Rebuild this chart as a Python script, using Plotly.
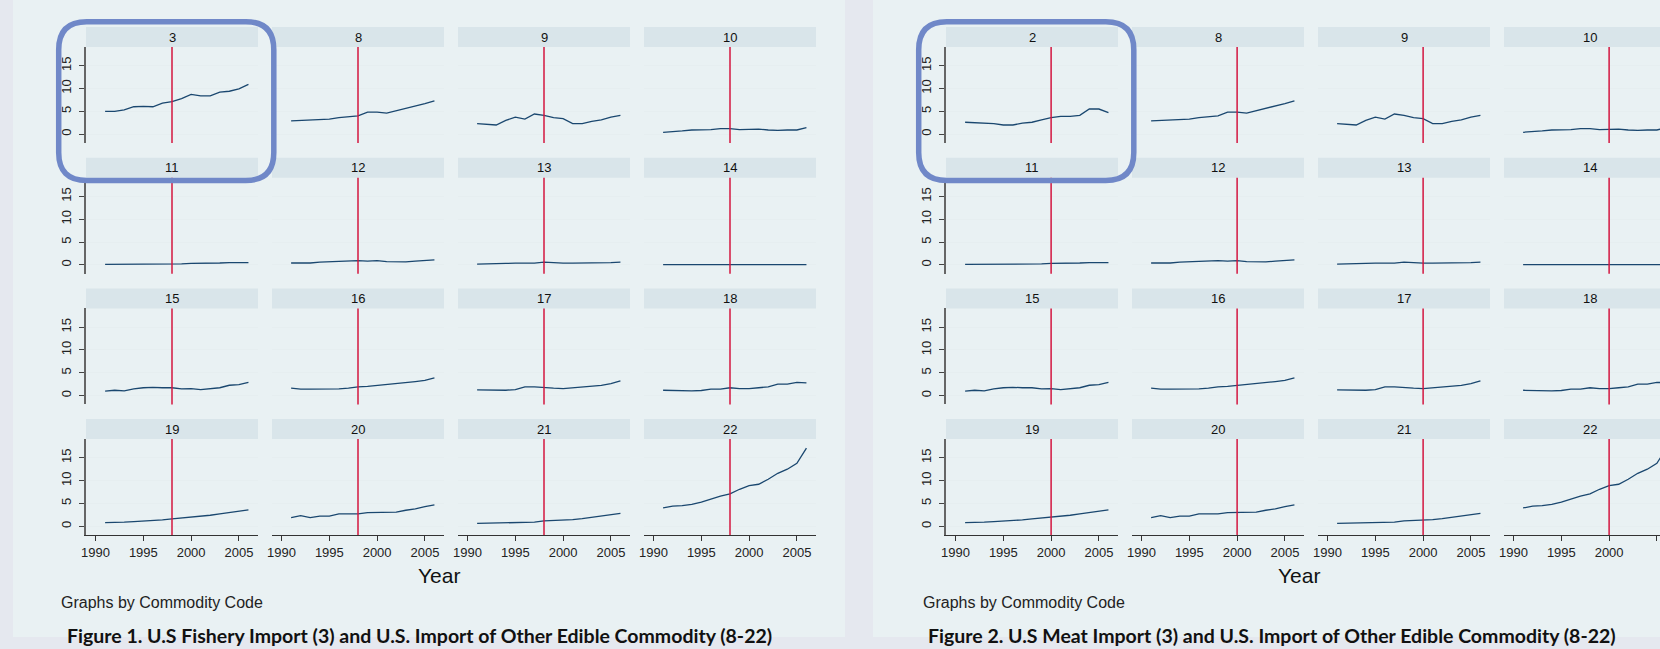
import plotly.graph_objects as go

# ---------------- data ----------------
years = [1991, 1992, 1993, 1994, 1995, 1996, 1997, 1998,
         1999, 2000, 2001, 2002, 2003, 2004, 2005, 2006]
x_tick_vals = [1990, 1995, 2000, 2005]
y_tick_vals = [0, 5, 10, 15]
y_tick_text = ["0", "5", "10", "15"]

codes_fig1 = ["3", "8", "9", "10", "11", "12", "13", "14",
              "15", "16", "17", "18", "19", "20", "21", "22"]
codes_fig2 = ["2", "8", "9", "10", "11", "12", "13", "14",
              "15", "16", "17", "18", "19", "20", "21", "22"]
event_year_fig1 = 1998
event_year_fig2 = 2000

s2 = [2.6, 2.5, 2.5, 2.3, 2.0, 2.0, 2.4, 2.6, 3.1, 3.6, 3.9, 3.9, 4.1, 5.5, 5.5, 4.7]
s3 = [5.0, 5.0, 5.3, 6.0, 6.1, 6.0, 6.8, 7.1, 7.8, 8.7, 8.4, 8.4, 9.2, 9.4, 9.9, 10.9]
s8 = [2.9, 3.0, 3.0, 3.1, 3.3, 3.6, 3.8, 4.0, 4.8, 4.8, 4.6, 5.1, 5.6, 6.1, 6.7, 7.3]
s9 = [2.3, 2.2, 2.0, 3.0, 3.7, 3.3, 4.4, 4.1, 3.6, 3.4, 2.3, 2.3, 2.8, 3.1, 3.7, 4.1]
s10 = [0.4, 0.5, 0.7, 0.9, 0.9, 1.0, 1.2, 1.2, 1.0, 1.0, 1.1, 0.9, 0.8, 0.9, 0.9, 1.4]
s11 = [0.1, 0.1, 0.1, 0.2, 0.2, 0.2, 0.2, 0.2, 0.2, 0.3, 0.3, 0.3, 0.4, 0.5, 0.5, 0.5]
s12 = [0.4, 0.4, 0.4, 0.6, 0.65, 0.7, 0.9, 0.9, 0.8, 0.9, 0.7, 0.6, 0.65, 0.8, 0.95, 1.1]
s13 = [0.15, 0.15, 0.15, 0.3, 0.35, 0.35, 0.35, 0.6, 0.45, 0.35, 0.35, 0.35, 0.5, 0.5, 0.5, 0.6]
s14 = [0.03, 0.03, 0.03, 0.03, 0.03, 0.03, 0.03, 0.03, 0.03, 0.03, 0.03, 0.03, 0.03, 0.03, 0.03, 0.03]
s15 = [0.95, 1.15, 1.0, 1.45, 1.7, 1.8, 1.7, 1.7, 1.45, 1.5, 1.3, 1.45, 1.7, 2.25, 2.4, 2.9]
s16 = [1.6, 1.4, 1.4, 1.4, 1.4, 1.45, 1.6, 1.9, 2.0, 2.2, 2.3, 2.55, 2.75, 3.05, 3.3, 3.85]
s17 = [1.25, 1.25, 1.1, 1.15, 1.3, 1.9, 1.9, 1.7, 1.6, 1.5, 1.7, 1.9, 2.05, 2.2, 2.6, 3.2]
s18 = [1.15, 1.1, 1.0, 1.0, 1.1, 1.4, 1.4, 1.7, 1.5, 1.5, 1.7, 1.9, 2.5, 2.5, 2.9, 2.75]
s19 = [0.8, 0.8, 0.9, 1.0, 1.1, 1.2, 1.4, 1.6, 1.8, 1.9, 2.1, 2.4, 2.7, 3.0, 3.3, 3.6]
s20 = [1.9, 2.3, 1.9, 2.2, 2.2, 2.7, 2.7, 2.7, 3.0, 3.0, 3.0, 3.1, 3.5, 3.8, 4.3, 4.7]
s21 = [0.6, 0.65, 0.7, 0.8, 0.8, 0.85, 0.9, 1.15, 1.2, 1.35, 1.45, 1.65, 1.9, 2.2, 2.45, 2.8]
s22 = [4.0, 4.4, 4.5, 4.8, 5.3, 6.0, 6.6, 7.1, 8.1, 8.9, 9.2, 10.3, 11.6, 12.5, 13.8, 17.1]

series_fig1 = [s3, s8, s9, s10, s11, s12, s13, s14, s15, s16, s17, s18, s19, s20, s21, s22]
series_fig2 = [s2, s8, s9, s10, s11, s12, s13, s14, s15, s16, s17, s18, s19, s20, s21, s22]

caption_fig1 = "Figure 1. U.S Fishery Import (3) and U.S. Import of Other Edible Commodity (8-22)"
caption_fig2 = "Figure 2. U.S Meat Import (3) and U.S. Import of Other Edible Commodity (8-22)"
note_text = "Graphs by Commodity Code"
x_title = "Year"

# ---------------- layout helpers ----------------
W, H = 1660, 649
FONT = "Arial, 'Liberation Sans', sans-serif"
PAGE_BG = "#e5e8ef"
PANEL_BG = "#e9f1f3"
STRIP_BG = "#d9e5ea"
LINE_COL = "#1a476f"
VLINE_COL = "#d3163f"
GRID_COL = "#e6eef0"
HILITE = "#7088c8"

X_MIN, X_MAX = 1989.0, 2007.0
Y_MIN, Y_MAX = -1.95, 19.1
COL_X0 = 86
COL_W = 172
COL_PITCH = 186
ROW_PITCH = 130.7
STRIP_TOP = 27
STRIP_H = 20
PLOT_H = 96
PANEL_OFF = 860


def fx(px):
    return px / W


def fy(py):
    return 1 - py / H


fig = go.Figure()
shapes = []
annotations = []
layout_axes = {}

panels = [
    (0, codes_fig1, series_fig1, event_year_fig1, caption_fig1, 420),
    (PANEL_OFF, codes_fig2, series_fig2, event_year_fig2, caption_fig2, 1272),
]

for off, codes, series, vyear, caption, capc in panels:
    shapes.append(dict(type="rect", xref="paper", yref="paper",
                       x0=fx(13 + off), x1=fx(845 + off), y0=fy(637), y1=fy(0),
                       fillcolor=PANEL_BG, line=dict(width=0), layer="below"))

k = 0
for off, codes, series, vyear, caption, capc in panels:
    for i, (code, vals) in enumerate(zip(codes, series)):
        r, c = divmod(i, 4)
        k += 1
        px0 = COL_X0 + c * COL_PITCH + off
        px1 = px0 + COL_W
        vis_px1 = min(px1, W)
        top = STRIP_TOP + STRIP_H + r * ROW_PITCH
        bot = top + PLOT_H
        x_hi = X_MIN + (vis_px1 - px0) / COL_W * (X_MAX - X_MIN)

        xa = "x" if k == 1 else f"x{k}"
        ya = "y" if k == 1 else f"y{k}"
        xkey = "xaxis" if k == 1 else f"xaxis{k}"
        ykey = "yaxis" if k == 1 else f"yaxis{k}"

        bottom_row = (r == 3)
        left_col = (c == 0)

        layout_axes[xkey] = dict(
            domain=[fx(px0), fx(vis_px1)], range=[X_MIN, x_hi], anchor=ya,
            showgrid=False, zeroline=False, automargin=False,
            showline=bottom_row, linecolor="#333333", linewidth=1.3,
            ticks="outside" if bottom_row else "", ticklen=5, tickwidth=1.2,
            tickcolor="#333333", tickmode="array", tickvals=x_tick_vals,
            showticklabels=bottom_row,
            tickfont=dict(family=FONT, size=13, color="#222222"),
            fixedrange=True,
        )
        layout_axes[ykey] = dict(
            domain=[fy(bot), fy(top)], range=[Y_MIN, Y_MAX], anchor=xa,
            showgrid=True, gridcolor=GRID_COL, gridwidth=1.2,
            zeroline=False, automargin=False,
            showline=left_col, linecolor="#666666", linewidth=1.6,
            ticks="outside" if left_col else "", ticklen=5, tickwidth=1.2,
            tickcolor="#444444", tickmode="array", tickvals=y_tick_vals,
            ticktext=y_tick_text, tickangle=-90, ticklabelstandoff=3,
            showticklabels=left_col,
            tickfont=dict(family=FONT, size=13, color="#222222"),
            fixedrange=True,
        )

        fig.add_trace(go.Scatter(
            x=years, y=vals, xaxis=xa, yaxis=ya, mode="lines",
            line=dict(color=LINE_COL, width=1.3), showlegend=False,
            hoverinfo="x+y", name=code,
        ))

        shapes.append(dict(type="line", xref=xa, yref=f"{ya} domain",
                           x0=vyear, x1=vyear, y0=0, y1=1,
                           line=dict(color=VLINE_COL, width=1.5), layer="above"))

        sy0 = STRIP_TOP + r * ROW_PITCH
        shapes.append(dict(type="rect", xref="paper", yref="paper",
                           x0=fx(px0), x1=fx(px1), y0=fy(sy0 + STRIP_H), y1=fy(sy0),
                           fillcolor=STRIP_BG, line=dict(width=0), layer="below"))
        annotations.append(dict(xref="paper", yref="paper",
                                x=fx(px0 + COL_W / 2), y=fy(sy0 + STRIP_H / 2),
                                text=code, showarrow=False,
                                xanchor="center", yanchor="middle",
                                font=dict(family=FONT, size=13, color="#111111")))

    annotations.append(dict(xref="paper", yref="paper", x=fx(439 + off), y=fy(575),
                            text=x_title, showarrow=False, xanchor="center",
                            yanchor="middle",
                            font=dict(family=FONT, size=21, color="#111111")))
    annotations.append(dict(xref="paper", yref="paper", x=fx(59 + off + (0 if off == 0 else 2)),
                            y=fy(602), text=note_text, showarrow=False,
                            xanchor="left", yanchor="middle",
                            font=dict(family=FONT, size=16, color="#222222")))
    annotations.append(dict(xref="paper", yref="paper", x=fx(capc), y=fy(635),
                            text="<b>" + caption + "</b>", showarrow=False,
                            xanchor="center", yanchor="middle",
                            font=dict(family="Lato, 'Open Sans', sans-serif",
                                      size=19.5, color="#111111")))

    rx0, rx1, ry0, ry1, R = 58.7 + off, 273.8 + off, 21.7, 180.5, 28

    def P(a, b):
        return f"{fx(a):.6f},{fy(b):.6f}"

    path = (f"M {P(rx0 + R, ry0)} L {P(rx1 - R, ry0)} Q {P(rx1, ry0)} {P(rx1, ry0 + R)} "
            f"L {P(rx1, ry1 - R)} Q {P(rx1, ry1)} {P(rx1 - R, ry1)} "
            f"L {P(rx0 + R, ry1)} Q {P(rx0, ry1)} {P(rx0, ry1 - R)} "
            f"L {P(rx0, ry0 + R)} Q {P(rx0, ry0)} {P(rx0 + R, ry0)} Z")
    shapes.append(dict(type="path", xref="paper", yref="paper", path=path,
                       line=dict(color=HILITE, width=5.5), fillcolor="rgba(0,0,0,0)",
                       layer="above"))

fig.update_layout(
    width=W, height=H,
    margin=dict(l=0, r=0, t=0, b=0),
    paper_bgcolor=PAGE_BG,
    plot_bgcolor="white",
    font=dict(family=FONT),
    showlegend=False,
    shapes=shapes,
    annotations=annotations,
    **layout_axes,
)

fig.write_html(
    "out.html",
    config={"displayModeBar": False},
    post_script="document.body.style.margin='0';document.body.style.overflow='hidden';",
)
